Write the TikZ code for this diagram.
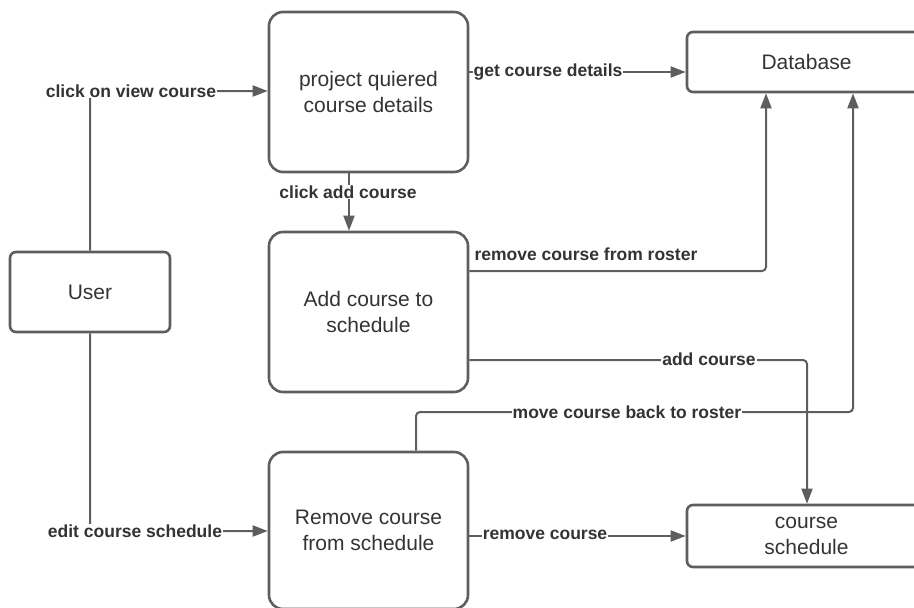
\documentclass[tikz,border=0pt]{standalone}
\usepackage{fontspec}
\setmainfont{Liberation Sans}
\usetikzlibrary{arrows.meta}

\definecolor{edge}{HTML}{5E5E5E}
\definecolor{ink}{HTML}{333333}

\tikzset{
  proc/.style={draw=edge,line width=2.6pt,rounded corners=14pt,minimum width=199pt,minimum height=160pt,align=center,text=ink,font=\fontsize{21}{26}\selectfont},
  ent/.style={draw=edge,line width=2.6pt,rounded corners=6pt,align=center,text=ink,font=\fontsize{21}{26}\selectfont},
  flow/.style={draw=edge,line width=2pt,rounded corners=4pt,-{Triangle[length=15pt,width=11pt]}},
  lbl/.style={fill=white,inner sep=1pt,text=ink,font=\bfseries\fontsize{17.5}{20}\selectfont},
}

\begin{document}
\begin{tikzpicture}[x=1pt,y=-1pt]
  \useasboundingbox (0,0) rectangle (914,608);
  \clip (0,0) rectangle (914,608);

  \draw (90,292) node[ent,minimum width=160pt,minimum height=80pt] (user) {User};
  \draw (368.5,92) node[proc] (proj) {project quiered\\course details};
  \draw (368.5,312) node[proc] (add) {Add course to\\schedule};
  \draw (368.5,530.5) node[proc,minimum height=157pt] (rem) {Remove course\\from schedule};
  \draw (806.5,62) node[ent,minimum width=239pt,minimum height=60pt] (db) {Database};
  \draw (806.5,536) node[ent,minimum width=239pt,minimum height=62pt] (sched) {course\\schedule};

  \draw[flow] (user.north) |- (proj.west |- 0,91);
  \draw[flow] (user.south) |- (rem.west |- 0,531);
  \draw[flow] (proj.south -| 349,0) -- (add.north -| 349,0);
  \draw[flow] (proj.east |- 0,72) -- (db.west |- 0,72);
  \draw[flow] (add.east |- 0,271) -| (db.south -| 766,0);
  \draw[flow] (add.east |- 0,360) -| (sched.north -| 807,0);
  \draw[flow] (rem.north -| 416,0) |- (853,412) -- (db.south -| 853,0);
  \draw[flow] (rem.east |- 0,536) -- (sched.west |- 0,536);

  \node[lbl] (lview) at (131,91) {click on view course};
  \node[lbl] (ledit) at (135,531) {edit course schedule};
  \node[lbl] (lclick) at (348,192) {click add course};
  \node[lbl] (lget) at (548,72) {get course details};
  \node[lbl] (lroster) at (586,254) {remove course from roster};
  \node[lbl] (ladd) at (709,359) {add course};
  \node[lbl] (lback) at (627,412) {move course back to roster};
  \node[lbl] (lrem) at (545,535) {remove course};
\end{tikzpicture}
\end{document}
